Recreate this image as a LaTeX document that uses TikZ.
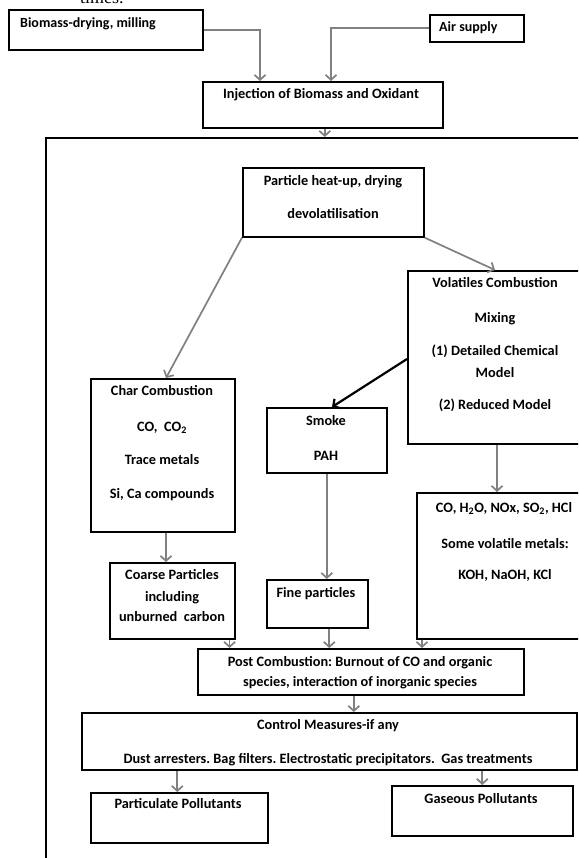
\documentclass[tikz,border=0pt]{standalone}
\usepackage{fontspec}
\setmainfont{Carlito}
\newfontfamily\timesfont{Liberation Serif}
\usetikzlibrary{arrows.meta}
\definecolor{arrgray}{RGB}{128,128,128}
\tikzset{
  box/.style={draw=black, line width=1.6pt, inner sep=0pt, anchor=north west},
  txt/.style={font=\bfseries\fontsize{14.3}{16}\selectfont, inner sep=0pt, anchor=mid},
  ltxt/.style={txt, anchor=mid west},
  garrow/.style={draw=arrgray, line width=1.7pt, -{Straight Barb[length=5pt,width=11pt]}},
  karrow/.style={draw=black, line width=2.2pt, -{Straight Barb[length=5pt,width=11pt]}},
}
\begin{document}
\begin{tikzpicture}[x=1pt,y=-1pt]
\useasboundingbox (0,0) rectangle (578,858);
\clip (0,0) rectangle (578,858);
\fill[white] (0,0) rectangle (578,858);

% cut-off caption remnant
\node[font=\timesfont\fontsize{18}{20}\selectfont, inner sep=0pt, anchor=base west] (times) at (80,4) {times.};

% boxes
\node[box, minimum width=194pt, minimum height=40pt] (bio) at (8,9) {};
\node[box, minimum width=94pt, minimum height=27pt] (air) at (429,14) {};
\node[box, minimum width=240pt, minimum height=46pt] (inj) at (202,81) {};
\node[box, minimum width=620pt, minimum height=800pt] (frame) at (45,137) {};
\node[box, minimum width=181pt, minimum height=69pt] (part) at (242,167) {};
\node[box, minimum width=176pt, minimum height=173pt] (vol) at (407,270) {};
\node[box, minimum width=144pt, minimum height=153pt] (char) at (90,378) {};
\node[box, minimum width=120pt, minimum height=65pt] (smoke) at (266,407) {};
\node[box, minimum width=125pt, minimum height=76pt] (coarse) at (109,562) {};
\node[box, minimum width=101pt, minimum height=48pt] (fine) at (266,579) {};
\node[box, minimum width=180pt, minimum height=146pt] (gas) at (416,492) {};
\node[box, minimum width=326pt, minimum height=46pt] (post) at (197,648) {};
\node[box, minimum width=495pt, minimum height=57pt] (ctrl) at (81,712) {};
\node[box, minimum width=177pt, minimum height=50pt] (partic) at (90,792) {};
\node[box, minimum width=181pt, minimum height=50pt] (gaseous) at (391,785) {};

% texts
\node[ltxt, font=\bfseries\fontsize{14}{16}\selectfont] (tbio) at (20,25) {Biomass-drying, milling};
\node[ltxt, font=\bfseries\fontsize{14}{16}\selectfont] (tair) at (439,29) {Air supply};
\node[txt] (tinj) at (321,96) {Injection of Biomass and Oxidant};
\node[txt] (tpart1) at (333,183) {Particle heat-up, drying};
\node[txt] (tpart2) at (333,216) {devolatilisation};
\node[txt] (tvol1) at (495,285) {Volatiles Combustion};
\node[txt] (tvol2) at (495,320) {Mixing};
\node[txt] (tvol3) at (495,353) {(1) Detailed Chemical};
\node[txt] (tvol4) at (495,375) {Model};
\node[txt] (tvol5) at (495,407) {(2) Reduced Model};
\node[txt] (tchar1) at (162,393) {Char Combustion};
\node[txt] (tchar2) at (162,429) {CO,\ \ CO\textsubscript{2}};
\node[txt] (tchar3) at (162,462) {Trace metals};
\node[txt] (tchar4) at (162,496) {Si, Ca compounds};
\node[txt] (tsmoke1) at (326,423) {Smoke};
\node[txt] (tsmoke2) at (326,458) {PAH};
\node[txt] (tcoarse1) at (172,577) {Coarse Particles};
\node[txt] (tcoarse2) at (172,599) {including};
\node[txt] (tcoarse3) at (172,619) {unburned\ \ carbon};
\node[txt] (tfine) at (316,595) {Fine particles};
\node[txt] (tgas1) at (504,510) {CO, H\textsubscript{2}O, NOx, SO\textsubscript{2}, HCl};
\node[txt] (tgas2) at (505,546) {Some volatile metals:};
\node[txt] (tgas3) at (505,577) {KOH, NaOH, KCl};
\node[txt] (tpost1) at (360,664) {Post Combustion:\ Burnout of CO and organic};
\node[txt] (tpost2) at (360,684) {species, interaction of inorganic species};
\node[txt] (tctrl1) at (328,727) {Control Measures-if any};
\begin{scope}
  \clip (81,712) rectangle (576,767.5);
  \node[txt] (tctrl2) at (328,761) {Dust arresters.\ Bag filters.\ Electrostatic precipitators.\ \ Gas treatments};
\end{scope}
\node[txt] (tpartic) at (178,806) {Particulate\ Pollutants};
\node[txt] (tgaseous) at (481,801) {Gaseous Pollutants};

% connectors
\draw[garrow] (bio.east) -| ([xshift=58pt]inj.north west);
\draw[garrow] (air.west) -| ([xshift=129pt]inj.north west);
\draw[garrow] ([xshift=2pt]inj.south) -- ([xshift=2pt]inj.south |- frame.north);
\draw[garrow] (part.south east) -- ([xshift=88pt]vol.north west);
\draw[garrow] (part.south west) -- ([xshift=76pt]char.north west);
\draw[karrow] ([yshift=-89pt]vol.north west) -- ([xshift=66pt]smoke.north west);
\draw[garrow] ([xshift=76pt]char.south west) -- ([xshift=76pt]char.south west |- coarse.north);
\draw[garrow] (smoke.south) -- (smoke.south |- fine.north);
\draw[garrow] ([xshift=90pt]vol.south west) -- ([xshift=90pt]vol.south west |- gas.north);
\draw[garrow] ([xshift=-6pt]coarse.south east) -- ([xshift=-6pt]coarse.south east |- post.north);
\draw[garrow] ([xshift=12pt]fine.south) -- ([xshift=12pt]fine.south |- post.north);
\draw[garrow] ([xshift=6pt]gas.south west) -- ([xshift=6pt]gas.south west |- post.north);
\draw[garrow] ([xshift=-7pt]post.south) -- ([xshift=-7pt]post.south |- ctrl.north);
\draw[garrow] ([xshift=-2pt]partic.north |- ctrl.south) -- ([xshift=-2pt]partic.north);
\draw[garrow] (gaseous.north |- ctrl.south) -- (gaseous.north);
\end{tikzpicture}
\end{document}
